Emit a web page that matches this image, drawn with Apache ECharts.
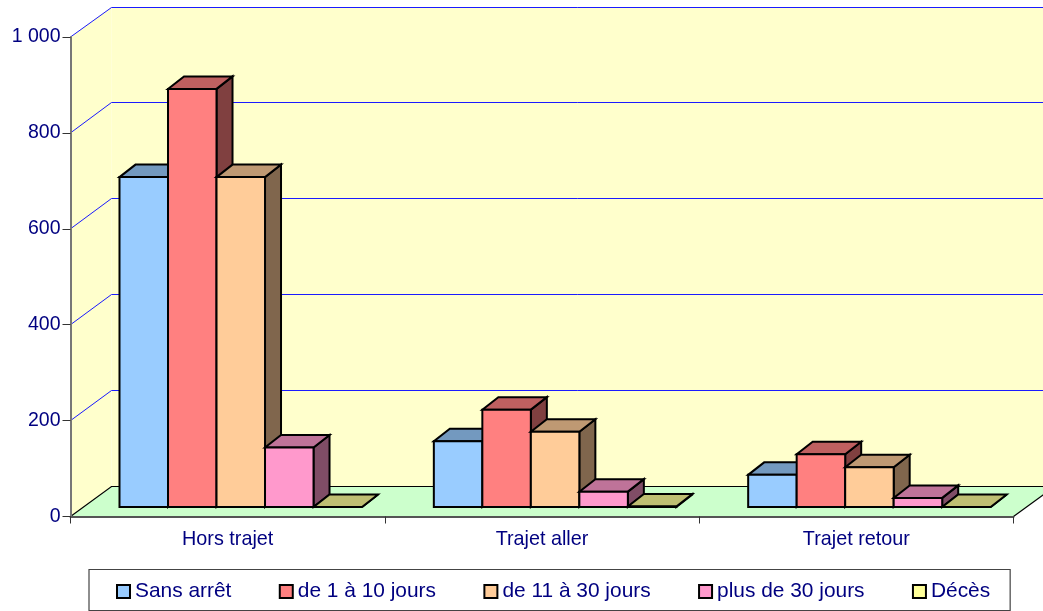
<!DOCTYPE html>
<html><head><meta charset="utf-8">
<style>html,body{margin:0;padding:0;background:#fff}#c{width:1043px;height:611px}</style>
<script src="https://cdn.jsdelivr.net/npm/echarts@6/dist/echarts.min.js"></script>
</head><body><div id="c"></div>
<script>
const categories = ['Hors trajet', 'Trajet aller', 'Trajet retour'];
const sansArret = [688, 137, 67];
const de1a10 = [872, 203, 110];
const de11a30 = [688, 157, 83];
const plus30 = [124, 32, 19];
const deces = [0, 1, 0];
const yTicks = [0, 200, 400, 600, 800, 1000];

const FONT = '"Liberation Sans", Arial, sans-serif';
const TEXT = '#000080';
const WALL_DX = 41, WALL_DY = -30;       // depth of the chart box
const BAR_DX = 16, BAR_DY = -12.5;       // depth of one bar
const OFF_DX = 13, OFF_DY = -9.5;        // front gap between axis plane and bars
const BAR_SHARE = 48.5 / 314.3, SIDE_SHARE = 36 / 314.3;

const seriesDefs = [
  { name: 'Sans arrêt', values: sansArret, color: '#99CCFF', top: '#7399BF', side: '#4D6680' },
  { name: 'de 1 à 10 jours', values: de1a10, color: '#FF8080', top: '#BF6060', side: '#804040' },
  { name: 'de 11 à 30 jours', values: de11a30, color: '#FFCC99', top: '#BF9973', side: '#80664D' },
  { name: 'plus de 30 jours', values: plus30, color: '#FF99CC', top: '#BF7399', side: '#804D66' },
  { name: 'Décès', values: deces, color: '#FFFF99', top: '#BFBF73', side: '#80804D' }
];

function poly(points, fill, stroke, lw) {
  return { type: 'polygon', shape: { points }, style: { fill, stroke: stroke || null, lineWidth: lw || 0, lineJoin: 'miter' } };
}

function renderWalls(params, api) {
  const catW = api.size([1, 0])[0];
  const bl = api.coord([0, 0]); bl[0] -= catW / 2;
  const tl = api.coord([0, 1000]); tl[0] -= catW / 2;
  const br = [bl[0] + catW * categories.length, bl[1]];
  const d = (p) => [p[0] + WALL_DX, p[1] + WALL_DY];
  return { type: 'group', children: [
    poly([bl, d(bl), d(tl), tl], '#FFFFCC'),
    poly([d(bl), d(br), [d(br)[0], d(tl)[1]], d(tl)], '#FFFFCC'),
    poly([bl, br, d(br), d(bl)], '#CCFFCC'),
    { type: 'polyline', shape: { points: [bl, d(bl), d(br)] }, style: { stroke: '#000', lineWidth: 1.2, fill: null } },
    { type: 'line', shape: { x1: br[0], y1: br[1], x2: d(br)[0], y2: d(br)[1] }, style: { stroke: '#000', lineWidth: 1.2 } }
  ] };
}

function renderGrid(params, api) {
  const catW = api.size([1, 0])[0];
  const p = api.coord([0, api.value(0)]); p[0] -= catW / 2;
  const q = [p[0] + WALL_DX, Math.floor(p[1] + WALL_DY) + 0.5];
  const r = [q[0] + catW * categories.length, q[1]];
  return { type: 'polyline', shape: { points: [p, q, r] }, style: { stroke: '#1A1AFF', lineWidth: 1, fill: 'none' } };
}

function makeBar(idx, def) {
  return function (params, api) {
    const cat = api.value(0);
    const catW = api.size([1, 0])[0];
    const w = catW * BAR_SHARE;
    const base = api.coord([cat, 0]);
    const top = api.coord([cat, api.value(1)]);
    const x0 = base[0] - catW / 2 + OFF_DX + catW * SIDE_SHARE + idx * w;
    const x1 = x0 + w;
    const y0 = base[1] + OFF_DY;
    const y1 = top[1] + OFF_DY;
    const lw = 2;
    const kids = [];
    kids.push(poly([[x1, y1], [x1 + BAR_DX, y1 + BAR_DY], [x1 + BAR_DX, y0 + BAR_DY], [x1, y0]], def.side, '#000', lw));
    kids.push(poly([[x0, y1], [x1, y1], [x1 + BAR_DX, y1 + BAR_DY], [x0 + BAR_DX, y1 + BAR_DY]], def.top, '#000', lw));
    kids.push(poly([[x0, y0], [x1, y0], [x1, y1], [x0, y1]], def.color, '#000', lw));
    return { type: 'group', children: kids };
  };
}

const series = [
  { type: 'custom', name: 'walls', silent: true, z: 1, renderItem: renderWalls, data: [[0]], encode: { x: 0 }, clip: false },
  { type: 'custom', name: 'grid', silent: true, z: 1, renderItem: renderGrid, data: yTicks.filter(v => v > 0).map(v => [v]), encode: { y: 0 }, clip: false }
].concat(seriesDefs.map((def, i) => ({
  type: 'custom', name: def.name, z: 2, clip: false,
  renderItem: makeBar(i, def),
  itemStyle: { color: def.color, borderColor: '#000', borderWidth: 1.5 },
  encode: { x: 0, y: 1 },
  data: def.values.map((v, c) => [c, v])
})));

const chart = echarts.init(document.getElementById('c'), null, { renderer: 'canvas' });
chart.setOption({
  animation: false,
  backgroundColor: '#fff',
  grid: { left: 70.5, right: 29.5, top: 37, bottom: 94.5, containLabel: false },
  xAxis: {
    type: 'category', data: categories, z: 10,
    axisLine: { show: true, lineStyle: { color: '#555', width: 2 } },
    axisTick: { show: true, length: 7, alignWithLabel: false, lineStyle: { color: '#333', width: 1 } },
    axisLabel: { color: TEXT, fontFamily: FONT, fontSize: 19.8, margin: 13 },
    splitLine: { show: false }
  },
  yAxis: {
    type: 'value', min: 0, max: 1000, interval: 200, z: 10,
    axisLine: { show: true, lineStyle: { color: '#777', width: 2 } },
    axisTick: { show: true, length: 8, lineStyle: { color: '#333', width: 1 } },
    axisLabel: { color: TEXT, fontFamily: FONT, fontSize: 19.5, margin: 10,
      formatter: v => v >= 1000 ? '1 000' : String(v) },
    splitLine: { show: false }
  },
  legend: {
    data: seriesDefs.map(d => d.name),
    left: 89, top: 569.5,
    orient: 'horizontal',
    icon: 'rect',
    itemWidth: 13, itemHeight: 13, itemGap: 47.4,
    padding: [11.5, 20, 8.5, 27],
    backgroundColor: '#fff',
    borderColor: '#444', borderWidth: 1.2,
    textStyle: { color: TEXT, fontFamily: FONT, fontSize: 20.9 },
    selectedMode: false
  },
  series
});
</script></body></html>
